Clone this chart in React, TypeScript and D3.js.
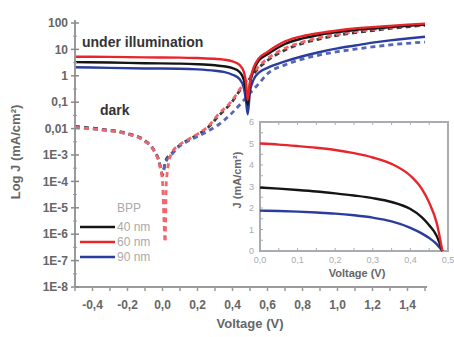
import * as d3 from "d3";
import React from "react";

// main plot: log |J| vs voltage
const lightV = [-0.5, -0.3, -0.1, 0.1, 0.2, 0.3, 0.35, 0.4, 0.44, 0.465, 0.478, 0.487, 0.5, 0.52, 0.55, 0.6, 0.7, 0.8, 0.9, 1.0, 1.1, 1.2, 1.3, 1.4, 1.5];
const light40 = [3.3, 3.2, 3.0, 2.9, 2.75, 2.5, 2.3, 1.95, 1.4, 0.7, 0.25, 0.08, 0.5, 1.6, 3.8, 6.5, 16, 26, 36, 45, 54, 62, 70, 79, 88];
const light60 = [5.3, 5.2, 5.0, 4.9, 4.7, 4.4, 4.1, 3.5, 2.6, 1.4, 0.5, 0.12, 0.6, 2.0, 4.5, 8, 20, 32, 42, 52, 62, 70, 78, 87, 95];
const light90 = [2.1, 2.0, 1.9, 1.85, 1.75, 1.55, 1.4, 1.1, 0.75, 0.35, 0.1, 0.035, 0.25, 0.7, 1.3, 2.0, 3.5, 5.5, 8, 11, 14, 18, 22, 26, 30];

const darkV = [-0.5, -0.35, -0.2, -0.1, -0.05, -0.02, 0, 0.008, 0.015, 0.022, 0.05, 0.1, 0.15, 0.2, 0.26, 0.32, 0.39, 0.46, 0.5, 0.55, 0.6, 0.7, 0.8, 0.9, 1.0, 1.1, 1.2, 1.3, 1.4, 1.5];
const dark40 = [0.012, 0.0095, 0.0065, 0.0035, 0.0016, 0.0006, 0.00018, 0.0003, 0.0005, 0.0007, 0.0011, 0.0024, 0.0038, 0.0058, 0.011, 0.03, 0.09, 0.4, 0.8, 2.0, 3.8, 9.5, 17, 25, 34, 43, 52, 62, 72, 82];
const dark60 = [0.011, 0.009, 0.0062, 0.0033, 0.0015, 0.0005, 0.0001, 0.000004, 0.0000005, 0.0001, 0.0011, 0.0025, 0.004, 0.0062, 0.012, 0.035, 0.1, 0.45, 0.9, 2.3, 4.5, 11, 19, 28, 37, 47, 57, 67, 78, 88];
const dark90 = [0.011, 0.009, 0.0062, 0.0034, 0.0015, 0.0006, 0.00017, 0.00028, 0.00045, 0.0006, 0.001, 0.0022, 0.0035, 0.005, 0.008, 0.014, 0.035, 0.11, 0.22, 0.5, 1.2, 2.6, 4.3, 6.2, 8.2, 10.2, 12.5, 14.8, 17, 19];

// inset: J vs V under illumination
const insetV = [0, 0.05, 0.1, 0.15, 0.2, 0.25, 0.3, 0.35, 0.4, 0.43, 0.45, 0.47, 0.485];
const inset40 = [2.95, 2.9, 2.84, 2.77, 2.68, 2.58, 2.46, 2.28, 1.95, 1.58, 1.2, 0.7, 0];
const inset60 = [5.0, 4.95, 4.88, 4.8, 4.7, 4.55, 4.35, 4.05, 3.5, 2.9, 2.25, 1.3, 0];
const inset90 = [1.88, 1.86, 1.83, 1.79, 1.74, 1.66, 1.55, 1.38, 1.08, 0.82, 0.6, 0.32, 0];

const seriesNames = ["40 nm", "60 nm", "90 nm"];
const solidColors = ["#151515", "#e8252b", "#2b3d9c"];
const dashColors = ["#3a3a3a", "#f0666a", "#5565b8"];

const xTicks = [-0.4, -0.2, 0, 0.2, 0.4, 0.6, 0.8, 1.0, 1.2, 1.4];
const yTicks = [100, 10, 1, 0.1, 0.01, 1e-3, 1e-4, 1e-5, 1e-6, 1e-7, 1e-8];
const yTickLabels = ["100", "10", "1", "0,1", "0,01", "1E-3", "1E-4", "1E-5", "1E-6", "1E-7", "1E-8"];
const insetXTicks = [0, 0.1, 0.2, 0.3, 0.4, 0.5];
const insetYTicks = [0, 1, 2, 3, 4, 5, 6];

const font = "Liberation Sans, Arial, sans-serif";
const comma = (v: number, d = 1) => v.toFixed(d).replace(".", ",");

const App: React.FC = () => {
  const x = d3.scaleLinear().domain([-0.5, 1.5]).range([75, 425]);
  const y = d3.scaleLog().domain([1e-8, 100]).range([287, 23]);
  const ix = d3.scaleLinear().domain([0, 0.5]).range([260, 448]);
  const iy = d3.scaleLinear().domain([0, 6]).range([251, 122]);

  const mainLine = (vs: number[], js: number[]) =>
    d3
      .line<number>()
      .x((_, i) => x(vs[i]))
      .y((d) => y(d))
      .curve(d3.curveMonotoneX)(js) || "";
  const insetLine = (js: number[]) =>
    d3
      .line<number>()
      .x((_, i) => ix(insetV[i]))
      .y((d) => iy(d))
      .curve(d3.curveMonotoneX)(js) || "";

  const lights = [light40, light60, light90];
  const darks = [dark40, dark60, dark90];
  const insets = [inset40, inset60, inset90];
  const minorX = d3.range(-0.5, 1.51, 0.1);
  const insetMinor = d3.range(0, 0.501, 0.05);

  return (
    <svg width={454} height={337} style={{ position: "absolute", left: 0, top: 0, background: "#fff" }} fontFamily={font}>
      {/* dark curves */}
      {[0, 2, 1].map((k) => (
        <path key={"d" + k} d={mainLine(darkV, darks[k])} fill="none" stroke={dashColors[k]} strokeWidth={2.8} strokeDasharray="5,4" />
      ))}
      {/* illuminated curves */}
      {[2, 0, 1].map((k) => (
        <path key={"l" + k} d={mainLine(lightV, lights[k])} fill="none" stroke={solidColors[k]} strokeWidth={2.4} />
      ))}

      {/* main axes */}
      <line x1={75} x2={75} y1={20} y2={287} stroke="#9a9a9a" strokeWidth={2} />
      <line x1={75} x2={427} y1={287} y2={287} stroke="#9a9a9a" strokeWidth={2} />
      {yTicks.map((t, i) => (
        <g key={"yt" + i}>
          <line x1={71} x2={79} y1={y(t)} y2={y(t)} stroke="#8a8a8a" strokeWidth={1.5} />
          <text x={68} y={y(t)} dy="0.35em" textAnchor="end" fontSize={12} fontWeight="bold" fill="#666">
            {yTickLabels[i]}
          </text>
        </g>
      ))}
      {yTicks.slice(0, -1).map((t, i) => (
        <line key={"ym" + i} x1={73} x2={77} y1={y(t / Math.sqrt(10))} y2={y(t / Math.sqrt(10))} stroke="#9a9a9a" />
      ))}
      {minorX.map((t, i) => (
        <line key={"xm" + i} x1={x(t)} x2={x(t)} y1={287} y2={291} stroke="#9a9a9a" strokeWidth={1.5} />
      ))}
      {xTicks.map((t, i) => (
        <text key={"xt" + i} x={x(t)} y={309} textAnchor="middle" fontSize={12} fontWeight="bold" fill="#666">
          {comma(t)}
        </text>
      ))}
      <text x={250} y={328} textAnchor="middle" fontSize={13} fontWeight="bold" fill="#666">
        Voltage (V)
      </text>
      <text transform="translate(20,152) rotate(-90)" textAnchor="middle" fontSize={13} fontWeight="bold" fill="#666">
        Log J (mA/cm²)
      </text>

      <text x={82} y={47} fontSize={14} fontWeight="bold" fill="#333">
        under illumination
      </text>
      <text x={100} y={115} fontSize={14} fontWeight="bold" fill="#333">
        dark
      </text>

      {/* legend */}
      <text x={117} y={212} fontSize={12} fill="#aaa">
        BPP
      </text>
      {seriesNames.map((n, i) => (
        <g key={"lg" + i}>
          <line x1={80} x2={115} y1={227 + i * 15} y2={227 + i * 15} stroke={solidColors[i]} strokeWidth={2.6} />
          <text x={117} y={227 + i * 15} dy="0.35em" fontSize={12} fill="#aaa">
            {n}
          </text>
        </g>
      ))}

      {/* inset */}
      <rect x={260} y={122} width={188} height={129} fill="#fff" stroke="#a8acb0" strokeWidth={2} />
      {insetMinor.map((t, i) => (
        <g key={"im" + i}>
          <line x1={ix(t)} x2={ix(t)} y1={251} y2={248} stroke="#a8acb0" />
          <line x1={ix(t)} x2={ix(t)} y1={122} y2={125} stroke="#a8acb0" />
        </g>
      ))}
      {d3.range(0, 6.01, 0.5).map((t, i) => (
        <line key={"iym" + i} x1={260} x2={263} y1={iy(t)} y2={iy(t)} stroke="#a8acb0" />
      ))}
      {insetXTicks.map((t, i) => (
        <text key={"ixt" + i} x={ix(t)} y={263} textAnchor="middle" fontSize={9} fill="#aaa">
          {comma(t)}
        </text>
      ))}
      {insetYTicks.map((t, i) => (
        <text key={"iyt" + i} x={254} y={iy(t)} dy="0.35em" textAnchor="end" fontSize={9} fill="#aaa">
          {t}
        </text>
      ))}
      {[2, 0, 1].map((k) => (
        <path key={"i" + k} d={insetLine(insets[k])} fill="none" stroke={solidColors[k]} strokeWidth={2.4} />
      ))}
      <text x={357} y={277} textAnchor="middle" fontSize={11} fontWeight="bold" fill="#666">
        Voltage (V)
      </text>
      <text transform="translate(241,180) rotate(-90)" textAnchor="middle" fontSize={11} fontWeight="bold" fill="#666">
        J (mA/cm²)
      </text>
    </svg>
  );
};

export default App;
